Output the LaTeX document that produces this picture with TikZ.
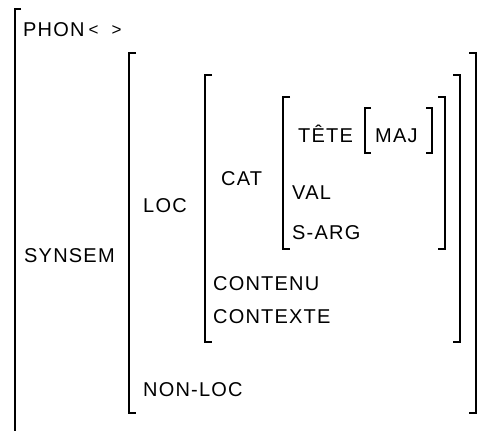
\documentclass[tikz,border=0pt]{standalone}
\usepackage{fontspec}
\setmainfont[LetterSpace=6]{Liberation Sans}
\usetikzlibrary{positioning}

\tikzset{
  feat/.style={anchor=base west, inner sep=0pt, font=\fontsize{20}{24}\selectfont},
  brack/.style={line width=1.4pt}
}

\begin{document}
\begin{tikzpicture}[x=1pt,y=-1pt]
    % Fix the page size
    \useasboundingbox (0,0) rectangle (481,431);
    % Define the corners of the brackets
    \coordinate (outTop) at (15,9);
    \coordinate (outBot) at (15,431);
    \coordinate (synTL) at (129,53);
    \coordinate (synBL) at (129,413);
    \coordinate (synTR) at (476,53);
    \coordinate (synBR) at (476,413);
    \coordinate (locTL) at (205,75);
    \coordinate (locBL) at (205,342);
    \coordinate (locTR) at (460,75);
    \coordinate (locBR) at (460,342);
    \coordinate (catTL) at (283,97);
    \coordinate (catBL) at (283,249);
    \coordinate (catTR) at (445,97);
    \coordinate (catBR) at (445,249);
    \coordinate (majTL) at (365,108);
    \coordinate (majBL) at (365,153);
    \coordinate (majTR) at (432,108);
    \coordinate (majBR) at (432,153);
    % Outer bracket
    \draw[brack] ([xshift=6pt]outTop) -- (outTop) -- (outBot);
    % SYNSEM brackets
    \draw[brack] ([xshift=7pt]synTL) -- (synTL) -- (synBL) -- ([xshift=7pt]synBL);
    \draw[brack] ([xshift=-7pt]synTR) -- (synTR) -- (synBR) -- ([xshift=-7pt]synBR);
    % LOC brackets
    \draw[brack] ([xshift=7pt]locTL) -- (locTL) -- (locBL) -- ([xshift=7pt]locBL);
    \draw[brack] ([xshift=-7pt]locTR) -- (locTR) -- (locBR) -- ([xshift=-7pt]locBR);
    % CAT brackets
    \draw[brack] ([xshift=7pt]catTL) -- (catTL) -- (catBL) -- ([xshift=7pt]catBL);
    \draw[brack] ([xshift=-7pt]catTR) -- (catTR) -- (catBR) -- ([xshift=-7pt]catBR);
    % MAJ brackets
    \draw[brack] ([xshift=6pt]majTL) -- (majTL) -- (majBL) -- ([xshift=6pt]majBL);
    \draw[brack] ([xshift=-6pt]majTR) -- (majTR) -- (majBR) -- ([xshift=-6pt]majBR);
    % Features
    \node[feat] (phon) at (23,36) {PHON\hspace{4pt}\raisebox{1pt}{\fontsize{17}{20}\selectfont<\hspace{13pt}>}};
    \node[feat] (synsem) at (24,262) {SYNSEM};
    \node[feat] (loc) at (143,212) {LOC};
    \node[feat] (cat) at (221,185) {CAT};
    \node[feat] (tete) at (298,142) {TÊTE};
    \node[feat] (maj) at (375,142) {MAJ};
    \node[feat] (val) at (292,199) {VAL};
    \node[feat] (sarg) at (292,239) {S-ARG};
    \node[feat] (contenu) at (213,290) {CONTENU};
    \node[feat] (contexte) at (213,323) {CONTEXTE};
    \node[feat] (nonloc) at (143,396) {NON-LOC};
\end{tikzpicture}
\end{document}
